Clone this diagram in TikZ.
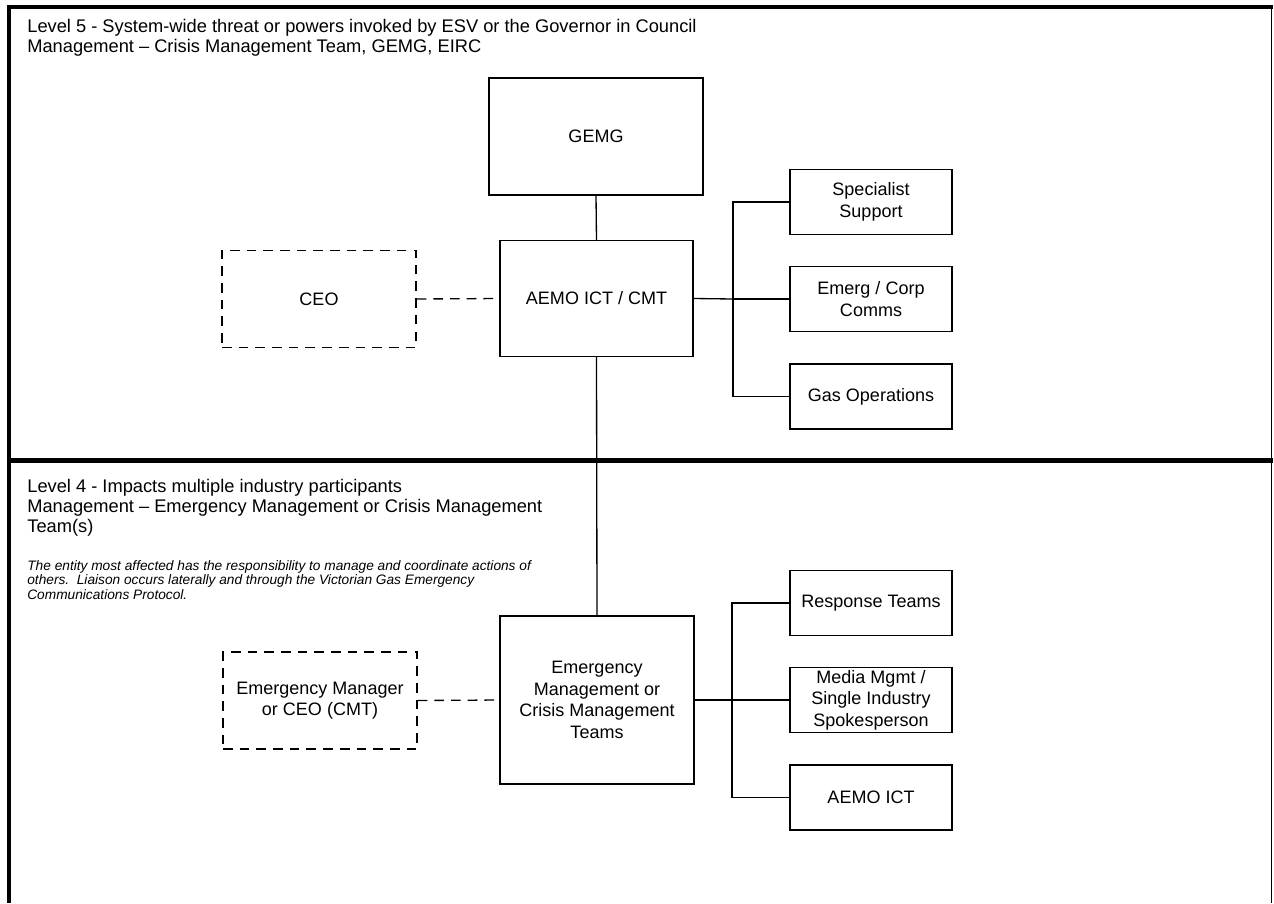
\documentclass[tikz,border=0pt]{standalone}
\usepackage{fontspec}
\setmainfont{Liberation Sans}
\colorlet{frameColor}{black}
\colorlet{lineColor}{black}
\tikzset{
	unit/.style={shape=rectangle, draw=lineColor, line width=0.75pt, align=center, inner sep=1pt, font=\fontsize{10.25}{12.3}\selectfont},
	dashunit/.style={unit, dash pattern=on 5.5pt off 4pt},
	side/.style={unit, minimum width=3.24cm, minimum height=1.3cm},
	link/.style={draw=lineColor, line width=0.75pt},
	dashlink/.style={link, dash pattern=on 5.5pt off 4pt},
	frame/.style={draw=frameColor, line width=2.3pt},
	heading/.style={anchor=north west, align=left, inner sep=0pt, font=\fontsize{10.4}{11.4}\selectfont},
	note/.style={anchor=north west, align=left, inner sep=0pt, font=\fontsize{7.8}{8.3}\selectfont\itshape}
}

\begin{document}
\begin{tikzpicture}[x=0.02cm, y=-0.02cm]
	\useasboundingbox (0,0) rectangle (1274,903);

	% --- Rahmen ---
	\draw[frame] (9,7) -- (9,903);
	\draw[frame] (7,7) -- (1272.5,7);
	\draw[draw=frameColor, line width=0.9pt] (1271.5,7) -- (1271.5,903);
	\draw[frame, line width=2.8pt] (9,460.5) -- (1272.5,460.5);

	% --- Beschriftungen ---
	\node[heading] (head5) at (27,19) {Level 5 - System-wide threat or powers invoked by ESV or the Governor in Council\\Management -- Crisis Management Team, GEMG, EIRC};
	\node[heading] (head4) at (27,479) {Level 4 - Impacts multiple industry participants\\Management -- Emergency Management or Crisis Management\\Team(s)};
	\node[note] (remark4) at (27,560) {The entity most affected has the responsibility to manage and coordinate actions of\\others.\ \ Liaison occurs laterally and through the Victorian Gas Emergency\\Communications Protocol.};

	% --- Level 5 ---
	\node[unit, minimum width=4.28cm, minimum height=2.34cm] (gemg) at (596,136.5) {GEMG};
	\node[unit, minimum width=3.86cm, minimum height=2.32cm] (aemo) at (596.5,298.5) {AEMO ICT / CMT};
	\node[dashunit, minimum width=3.88cm, minimum height=1.94cm] (ceo) at (319,299) {CEO};
	\node[side] (spec) at (871,202) {Specialist\\Support};
	\node[side] (comms) at (871,299) {Emerg / Corp\\Comms};
	\node[side] (gasops) at (871,396.5) {Gas Operations};

	% --- Level 4 ---
	\node[unit, minimum width=3.88cm, minimum height=3.36cm] (emt) at (597,700) {Emergency\\Management or\\Crisis Management\\Teams};
	\node[dashunit, minimum width=3.88cm, minimum height=1.94cm] (emgr) at (320,700.5) {Emergency Manager\\or CEO (CMT)};
	\node[side] (resp) at (871,603) {Response Teams};
	\node[side] (media) at (871,700) {Media Mgmt /\\Single Industry\\Spokesperson};
	\node[side] (aemoict) at (871,797.5) {AEMO ICT};

	% --- Verbindungen ---
	\coordinate (spine5) at (733,299);
	\coordinate (spine4) at (732,700);
	\draw[link] (gemg.south) -- (aemo.north);
	\draw[dashlink] (ceo.east) -- (aemo.west);
	\draw[link] (aemo.east) -- (spine5);
	\draw[link] (spec.west) -| (spine5) |- (gasops.west);
	\draw[link] (spine5) -- (comms.west);
	\draw[link] (aemo.south) -- (emt.north);
	\draw[dashlink] (emgr.east) -- (emt.west);
	\draw[link] (emt.east) -- (spine4);
	\draw[link] (resp.west) -| (spine4) |- (aemoict.west);
	\draw[link] (spine4) -- (media.west);
\end{tikzpicture}
\end{document}
